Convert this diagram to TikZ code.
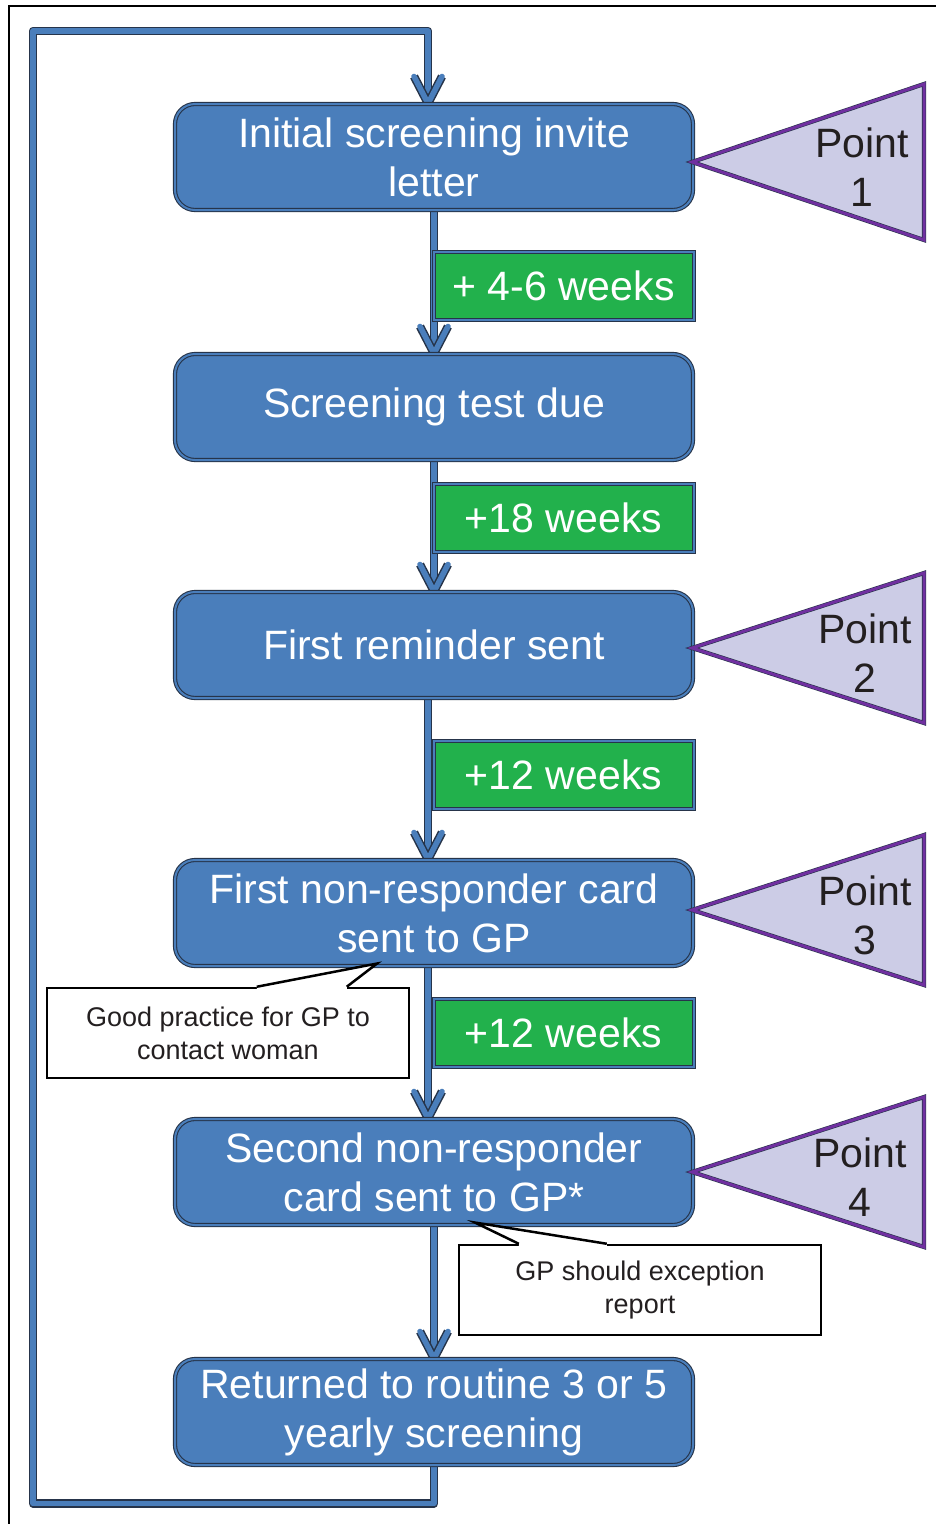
\documentclass[tikz,border=0pt]{standalone}
\usepackage{fontspec}
\setmainfont{Liberation Sans}
\usetikzlibrary{calc,backgrounds}
\definecolor{boxblue}{RGB}{74,126,187}
\definecolor{edgeline}{RGB}{38,52,74}
\definecolor{weekgreen}{RGB}{34,177,76}
\definecolor{pointfill}{RGB}{204,204,230}
\definecolor{pointedge}{RGB}{112,48,160}
\definecolor{inkgrey}{RGB}{35,31,32}
\tikzset{
  stage/.style={rectangle, rounded corners=20pt, fill=boxblue,
                draw=edgeline, double=boxblue, double distance=2pt, line width=1.1pt,
                minimum width=518, minimum height=106, align=center,
                text=white, font=\fontsize{41}{49}\selectfont},
  gap/.style={rectangle, fill=weekgreen, anchor=west,
              draw=edgeline, double=boxblue, double distance=2pt, line width=1pt,
              minimum width=260, minimum height=68,
              text=white, font=\fontsize{41}{49}\selectfont},
  pointtri/.style={fill=pointfill, draw=edgeline, double=pointedge,
                   double distance=3pt, line width=0.6pt, line join=miter},
  pointtxt/.style={align=center, text=inkgrey, font=\fontsize{41}{49}\selectfont},
  note/.style={rectangle, draw=black, line width=2.5pt, fill=white,
               minimum width=362, minimum height=90, align=center,
               text=inkgrey, font=\fontsize{27}{33}\selectfont},
  link/.style={draw=boxblue, line width=5.5pt, line join=round,
               preaction={draw=edgeline, line width=8.5pt, line join=round}}
}
\begin{document}
\begin{tikzpicture}[x=1pt,y=-1pt]
 \useasboundingbox (0,0) rectangle (936,1524);
 % page frame
 \draw[line width=2pt] (9,1524) -- (9,6) -- (936,6);
 % stages
 \node[stage] (b1) at (434,157) {Initial screening invite\\letter};
 \node[stage] (b2) at (434,407) {Screening test due};
 \node[stage] (b3) at (434,645) {First reminder sent};
 \node[stage] (b4) at (434,913) {First non-responder card\\sent to GP};
 \node[stage] (b5) at (434,1172) {Second non-responder\\card sent to GP*};
 \node[stage] (b6) at (434,1412) {Returned to routine 3 or 5\\yearly screening};
 \coordinate (in1) at ([xshift=-6pt]b1.north);
 \coordinate (in2) at (b2.north);
 \coordinate (in3) at (b3.north);
 \coordinate (in4) at ([xshift=-6pt]b4.north);
 \coordinate (in5) at ([xshift=-6pt]b5.north);
 \coordinate (in6) at (b6.north);
 \begin{scope}[on background layer]
  \draw[link] (b1.south) -- (in2);
  \draw[link] (b2.south) -- (in3);
  \draw[link] ([xshift=-6pt]b3.south) -- (in4);
  \draw[link] ([xshift=-6pt]b4.south) -- (in5);
  \draw[link] (b5.south) -- (in6);
  \draw[link] (b6.south) -- ++(0,38) -| (33,31) -| (in1);
  \foreach \c in {in1,in2,in3,in4,in5,in6}
   \draw[link, line cap=round, preaction={line cap=round}]
     ($(\c)+(-14,-27)$) -- (\c) -- ($(\c)+(14,-27)$);
 \end{scope}
 % intervals
 \node[gap] (g1) at (433,286) {+ 4-6 weeks};
 \node[gap] (g2) at (433,518) {+18 weeks};
 \node[gap] (g3) at (433,775) {+12 weeks};
 \node[gap] (g4) at (433,1033) {+12 weeks};
 % points
 \foreach \n/\y/\h/\tx in {1/162/78/862, 2/648/75/865, 3/910/75/865, 4/1172/75/860}
 {\draw[pointtri] (692,\y) -- (924,\y-\h) -- (924,\y+\h) -- cycle;
  \node[pointtxt] (p\n) at (\tx,\y+5) {Point\\\n};}
 % notes
 \node[note] (c1) at (228,1033) {Good practice for GP to\\contact woman};
 \node[note] (c2) at (640,1290) {GP should exception\\report};
 \coordinate (t1) at ([xshift=-57pt,yshift=3pt]b4.south);
 \coordinate (t2) at ([xshift=41pt,yshift=3pt]b5.south);
 \fill[white] ([xshift=211pt]c1.north west) -- (t1) -- ([xshift=301pt]c1.north west)
   -- ([xshift=301pt,yshift=-3pt]c1.north west) -- ([xshift=211pt,yshift=-3pt]c1.north west) -- cycle;
 \draw[line width=2.5pt, line join=miter] ([xshift=211pt]c1.north west) -- (t1) -- ([xshift=301pt]c1.north west);
 \fill[white] ([xshift=61pt]c2.north west) -- (t2) -- ([xshift=149pt]c2.north west)
   -- ([xshift=149pt,yshift=-3pt]c2.north west) -- ([xshift=61pt,yshift=-3pt]c2.north west) -- cycle;
 \draw[line width=2.5pt, line join=miter] ([xshift=61pt]c2.north west) -- (t2) -- ([xshift=149pt]c2.north west);
\end{tikzpicture}
\end{document}
